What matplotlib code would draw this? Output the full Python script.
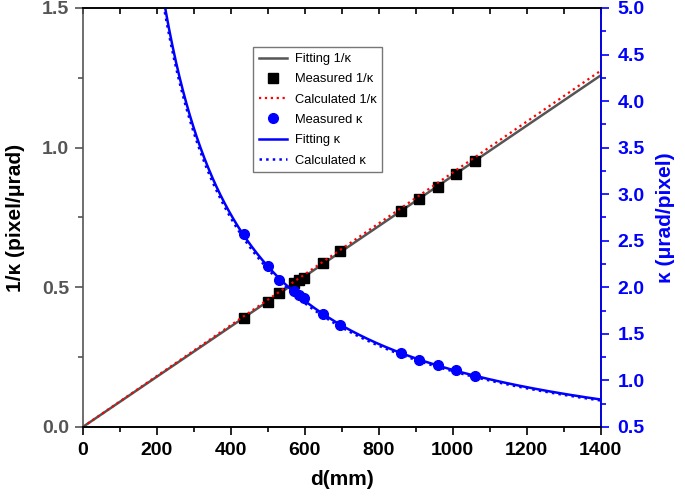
import numpy as np
import matplotlib.pyplot as plt
from matplotlib.ticker import MultipleLocator
from matplotlib.lines import Line2D

plt.rcParams['font.family'] = ['Liberation Sans', 'DejaVu Sans']

# measured distances (mm)
d_meas = [435, 500, 530, 570, 585, 598, 650, 695, 860, 910, 960, 1010, 1060]
# measured 1/kappa (pixel/urad)
inv_k_meas = [0.391, 0.449, 0.481, 0.517, 0.526, 0.533, 0.588, 0.629,
              0.774, 0.817, 0.860, 0.906, 0.951]
# measured kappa (urad/pixel)
k_meas = [2.57, 2.23, 2.08, 1.96, 1.92, 1.88, 1.71, 1.59,
          1.29, 1.22, 1.16, 1.11, 1.05]

# slopes of the fitted / calculated 1/kappa lines
slope_fit = 0.000899
slope_calc = 0.000911

d = np.linspace(0, 1400, 600)
d_k = np.linspace(150, 1400, 800)

fig = plt.figure(figsize=(6.85, 4.97), dpi=100)
ax = fig.add_axes([0.121, 0.141, 0.756, 0.843])
ax2 = ax.twinx()

grey = '#555555'
blue = '#0000ff'

ax.plot(d, slope_fit * d, color=grey, lw=1.8)
ax.plot(d_meas, inv_k_meas, 's', color='black', ms=6.5)
ax.plot(d, slope_calc * d, ':', color='red', lw=1.6)

ax2.plot(d_meas, k_meas, 'o', color=blue, ms=7)
ax2.plot(d_k, 1 / (slope_fit * d_k), color=blue, lw=1.8)
ax2.plot(d_k, 1 / (slope_calc * d_k), ':', color=blue, lw=1.8)

ax.set_xlim(0, 1400)
ax.set_ylim(0, 1.5)
ax2.set_ylim(0.5, 5.0)

ax.xaxis.set_major_locator(MultipleLocator(200))
ax.xaxis.set_minor_locator(MultipleLocator(100))
ax.yaxis.set_major_locator(MultipleLocator(0.5))
ax.yaxis.set_minor_locator(MultipleLocator(0.25))
ax2.yaxis.set_major_locator(MultipleLocator(0.5))
ax2.yaxis.set_minor_locator(MultipleLocator(0.25))

ax.set_yticks([0, 0.5, 1.0, 1.5])
ax.set_yticklabels(['0.0', '0.5', '1.0', '1.5'])

ax.tick_params(axis='x', which='major', direction='out', length=6, width=1.2,
               labelsize=14, pad=5)
ax.tick_params(axis='x', which='minor', direction='out', length=3.5, width=1.2)
ax.tick_params(axis='y', which='major', direction='out', length=6, width=1.2,
               labelsize=14, labelcolor=grey, color=grey, pad=4)
ax.tick_params(axis='y', which='minor', direction='out', length=3.5, width=1.2,
               color=grey)
ax2.tick_params(axis='y', which='major', direction='out', length=6, width=1.2,
                labelsize=14, colors=blue, pad=6)
ax2.tick_params(axis='y', which='minor', direction='out', length=3.5, width=1.2,
                colors=blue)

# top axis ticks point inward
sec = ax.secondary_xaxis('top')
sec.xaxis.set_major_locator(MultipleLocator(100))
sec.tick_params(direction='in', length=4, width=1.2, labeltop=False)
sec.spines['top'].set_visible(False)

for lbl in ax.get_xticklabels() + ax.get_yticklabels() + ax2.get_yticklabels():
    lbl.set_fontweight('bold')

ax.spines['left'].set_color(grey)
ax2.spines['left'].set_visible(False)
ax2.spines['right'].set_color(blue)
for s in ['left', 'right', 'top', 'bottom']:
    ax.spines[s].set_linewidth(1.2)
    ax2.spines[s].set_linewidth(1.2)
ax.spines['top'].set_color('#222222')

ax.set_xlabel('d(mm)', fontsize=15, fontweight='bold', labelpad=8)
ax.set_ylabel('1/\u03ba (pixel/\u03bcrad)', fontsize=15, fontweight='bold',
              labelpad=12)
ax2.set_ylabel('\u03ba (\u03bcrad/pixel)', fontsize=15, fontweight='bold',
               color=blue, labelpad=8)

handles = [
    Line2D([], [], color=grey, lw=1.8),
    Line2D([], [], ls='none', marker='s', color='black', ms=6.5),
    Line2D([], [], ls=':', color='red', lw=1.6),
    Line2D([], [], ls='none', marker='o', color=blue, ms=7),
    Line2D([], [], color=blue, lw=1.8),
    Line2D([], [], ls=':', color=blue, lw=1.8),
]
labels = ['Fitting 1/\u03ba', 'Measured 1/\u03ba', 'Calculated 1/\u03ba',
          'Measured \u03ba', 'Fitting \u03ba', 'Calculated \u03ba']
leg = ax2.legend(handles, labels, loc='upper left',
                 bbox_to_anchor=(0.369, 0.905), bbox_transform=fig.transFigure,
                 fontsize=9.3, frameon=True, fancybox=False, handlelength=2.2,
                 handletextpad=0.6, borderpad=0.45, labelspacing=0.64,
                 borderaxespad=0)
leg.get_frame().set_edgecolor(grey)
leg.get_frame().set_linewidth(1.0)

fig.savefig('out.png', dpi=100)
